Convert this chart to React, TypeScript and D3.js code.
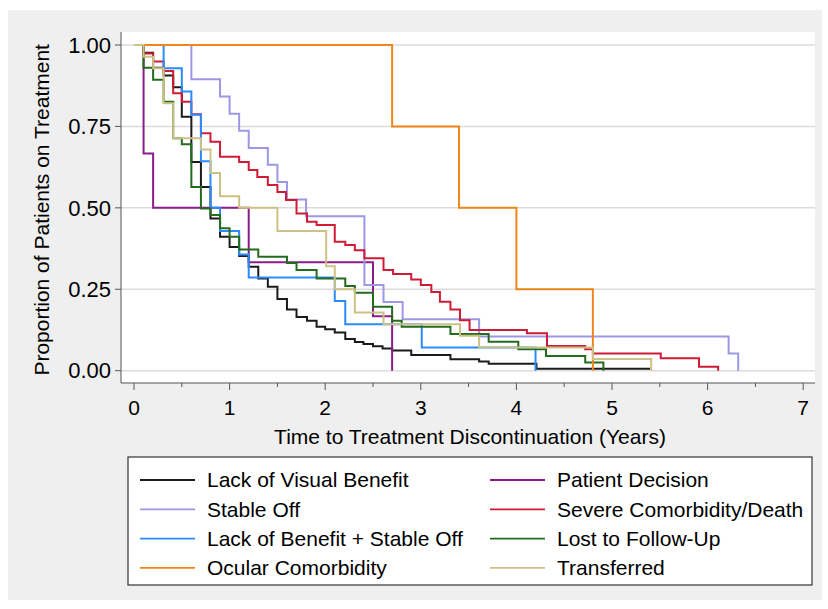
import React from "react";
import * as d3 from "d3";

// legend order (Stata fills the 2-column legend row by row)
const seriesNames = [
  "Lack of Visual Benefit",
  "Patient Decision",
  "Stable Off",
  "Severe Comorbidity/Death",
  "Lack of Benefit + Stable Off",
  "Lost to Follow-Up",
  "Ocular Comorbidity",
  "Transferred",
];

// Kaplan-Meier steps: [years, proportion still on treatment]
const lackVisual = [
  [0, 1], [0.1, 0.976], [0.2, 0.93], [0.31, 0.906], [0.41, 0.87], [0.5, 0.78],
  [0.6, 0.641], [0.7, 0.564], [0.8, 0.467], [0.9, 0.411], [1.0, 0.38], [1.1, 0.352],
  [1.2, 0.319], [1.3, 0.283], [1.4, 0.258], [1.5, 0.22], [1.6, 0.188], [1.7, 0.165],
  [1.81, 0.153], [1.91, 0.135], [2.0, 0.127], [2.1, 0.117], [2.21, 0.097], [2.31, 0.088],
  [2.4, 0.082], [2.5, 0.075], [2.6, 0.068], [2.7, 0.062], [2.9, 0.048], [3.31, 0.035],
  [3.61, 0.028], [3.71, 0.021], [4.21, 0.006], [5.4, 0.006],
];
const patientDecision = [
  [0, 1], [0.1, 0.667], [0.2, 0.5], [1.2, 0.333], [2.5, 0.167], [2.7, 0],
];
const stableOff = [
  [0, 1], [0.6, 0.895], [0.9, 0.842], [1.0, 0.789], [1.1, 0.737], [1.2, 0.684],
  [1.4, 0.632], [1.5, 0.579], [1.6, 0.526], [1.8, 0.474], [2.41, 0.263], [2.61, 0.211],
  [2.81, 0.158], [3.61, 0.105], [6.22, 0.053], [6.32, 0],
];
const severeComorbidity = [
  [0, 1], [0.1, 0.974], [0.2, 0.949], [0.31, 0.92], [0.41, 0.852], [0.5, 0.826],
  [0.6, 0.787], [0.7, 0.729], [0.8, 0.703], [0.9, 0.657], [1.1, 0.641], [1.2, 0.616],
  [1.29, 0.595], [1.4, 0.57], [1.5, 0.549], [1.59, 0.524], [1.7, 0.483], [1.81, 0.457],
  [1.91, 0.447], [2.1, 0.396], [2.21, 0.386], [2.31, 0.37], [2.41, 0.345], [2.61, 0.309],
  [2.71, 0.297], [2.9, 0.28], [3.0, 0.263], [3.11, 0.242], [3.2, 0.212], [3.31, 0.188],
  [3.41, 0.155], [3.51, 0.125], [4.11, 0.115], [4.32, 0.076], [4.72, 0.066], [4.8, 0.053],
  [5.51, 0.038], [5.91, 0.012], [6.11, 0],
];
const benefitStableOff = [
  [0, 1], [0.31, 0.929], [0.5, 0.857], [0.6, 0.786], [0.7, 0.643], [0.8, 0.5],
  [0.9, 0.429], [1.1, 0.357], [1.2, 0.286], [2.1, 0.214], [2.21, 0.143], [3.01, 0.071],
  [4.2, 0],
];
const lostFollowUp = [
  [0, 1], [0.1, 0.93], [0.2, 0.893], [0.31, 0.826], [0.41, 0.714], [0.5, 0.695],
  [0.6, 0.564], [0.7, 0.498], [0.8, 0.478], [0.9, 0.437], [1.0, 0.411], [1.1, 0.372],
  [1.3, 0.35], [1.6, 0.331], [1.7, 0.309], [1.91, 0.283], [2.21, 0.26], [2.31, 0.239],
  [2.5, 0.196], [2.7, 0.153], [2.8, 0.135], [3.31, 0.113], [3.71, 0.089], [4.02, 0.066],
  [4.31, 0.045], [4.72, 0.025], [4.91, 0],
];
const ocularComorbidity = [
  [0, 1], [2.7, 0.75], [3.4, 0.5], [4.0, 0.25], [4.8, 0],
];
const transferred = [
  [0, 1], [0.1, 0.964], [0.2, 0.929], [0.31, 0.821], [0.41, 0.714], [0.7, 0.679],
  [0.8, 0.607], [0.9, 0.536], [1.1, 0.5], [1.5, 0.429], [2.01, 0.321], [2.1, 0.25],
  [2.31, 0.179], [2.61, 0.143], [3.41, 0.107], [3.61, 0.071], [4.8, 0.036], [5.41, 0],
];

const seriesData = [
  lackVisual, patientDecision, stableOff, severeComorbidity,
  benefitStableOff, lostFollowUp, ocularComorbidity, transferred,
];

const xTicks = [0, 1, 2, 3, 4, 5, 6, 7];
const xMinorTicks = [0.5, 1.5, 2.5, 3.5, 4.5, 5.5, 6.5];
const yTicks = [0, 0.25, 0.5, 0.75, 1];

const colors = [
  "#1b1b1b", "#8c1c8c", "#9d97e4", "#d01b36",
  "#2a8bff", "#236b1f", "#f0861a", "#cdc285",
];

const font = "'Liberation Sans', Arial, Helvetica, sans-serif";

export default function App() {
  const width = 828;
  const height = 609;
  const plot = { left: 121, right: 815, top: 32, bottom: 383 };

  const x = d3.scaleLinear().domain([0, 7]).range([134, 803.2]);
  const y = d3.scaleLinear().domain([0, 1]).range([370.7, 45]);

  const line = d3
    .line<number[]>()
    .x((d) => x(d[0]))
    .y((d) => y(d[1]))
    .curve(d3.curveStepAfter);

  const legend = { left: 128, top: 457, right: 812, bottom: 585 };

  return (
    <svg
      width={width}
      height={height}
      style={{ position: "absolute", left: 0, top: 0, fontFamily: font }}
    >
      <rect x={0} y={0} width={width} height={height} fill="#ffffff" />
      <rect x={8} y={10} width={814} height={590} fill="#efefef" />
      <rect
        x={plot.left}
        y={plot.top}
        width={plot.right - plot.left}
        height={plot.bottom - plot.top}
        fill="#ffffff"
      />

      {/* gridlines */}
      {yTicks.map((t) => (
        <line
          key={`g${t}`}
          x1={plot.left}
          x2={plot.right}
          y1={y(t)}
          y2={y(t)}
          stroke="#dcdcdc"
          strokeWidth={1.5}
        />
      ))}

      {/* survival curves */}
      {seriesData.map((d, i) => (
        <path
          key={seriesNames[i]}
          d={line(d) || ""}
          fill="none"
          stroke={colors[i]}
          strokeWidth={2}
        />
      ))}

      {/* y axis */}
      <line x1={plot.left} x2={plot.left} y1={plot.top} y2={plot.bottom} stroke="#555" strokeWidth={1} />
      {yTicks.map((t) => (
        <g key={`y${t}`}>
          <line x1={plot.left - 6} x2={plot.left} y1={y(t)} y2={y(t)} stroke="#555" />
          <text x={111} y={y(t)} dy="0.35em" textAnchor="end" fontSize={22} fill="#000">
            {t.toFixed(2)}
          </text>
        </g>
      ))}
      <text
        transform={`translate(49,${(y(0) + y(1)) / 2 + 2}) rotate(-90)`}
        textAnchor="middle"
        fontSize={21}
        fill="#000"
      >
        Proportion of Patients on Treatment
      </text>

      {/* x axis */}
      <line x1={plot.left} x2={plot.right} y1={plot.bottom} y2={plot.bottom} stroke="#555" strokeWidth={1} />
      {xTicks.map((t) => (
        <g key={`x${t}`}>
          <line x1={x(t)} x2={x(t)} y1={plot.bottom} y2={plot.bottom + 7} stroke="#555" />
          <text x={x(t)} y={415} textAnchor="middle" fontSize={21} fill="#000">
            {t}
          </text>
        </g>
      ))}
      {xMinorTicks.map((t) => (
        <line key={`m${t}`} x1={x(t)} x2={x(t)} y1={plot.bottom} y2={plot.bottom + 4} stroke="#555" />
      ))}
      <text x={470} y={444} textAnchor="middle" fontSize={21} fill="#000">
        Time to Treatment Discontinuation (Years)
      </text>

      {/* legend */}
      <rect
        x={legend.left}
        y={legend.top}
        width={legend.right - legend.left}
        height={legend.bottom - legend.top}
        fill="#ffffff"
        stroke="#333"
        strokeWidth={1.2}
      />
      {seriesNames.map((name, i) => {
        const col = i % 2;
        const row = Math.floor(i / 2);
        const lx = col === 0 ? 140 : 490;
        const ly = 480 + row * 29.3;
        return (
          <g key={`l${name}`}>
            <line x1={lx} x2={lx + 55} y1={ly} y2={ly} stroke={colors[i]} strokeWidth={1.8} />
            <text x={lx + 67} y={ly} dy="0.35em" fontSize={21} fill="#000">
              {name}
            </text>
          </g>
        );
      })}
    </svg>
  );
}
